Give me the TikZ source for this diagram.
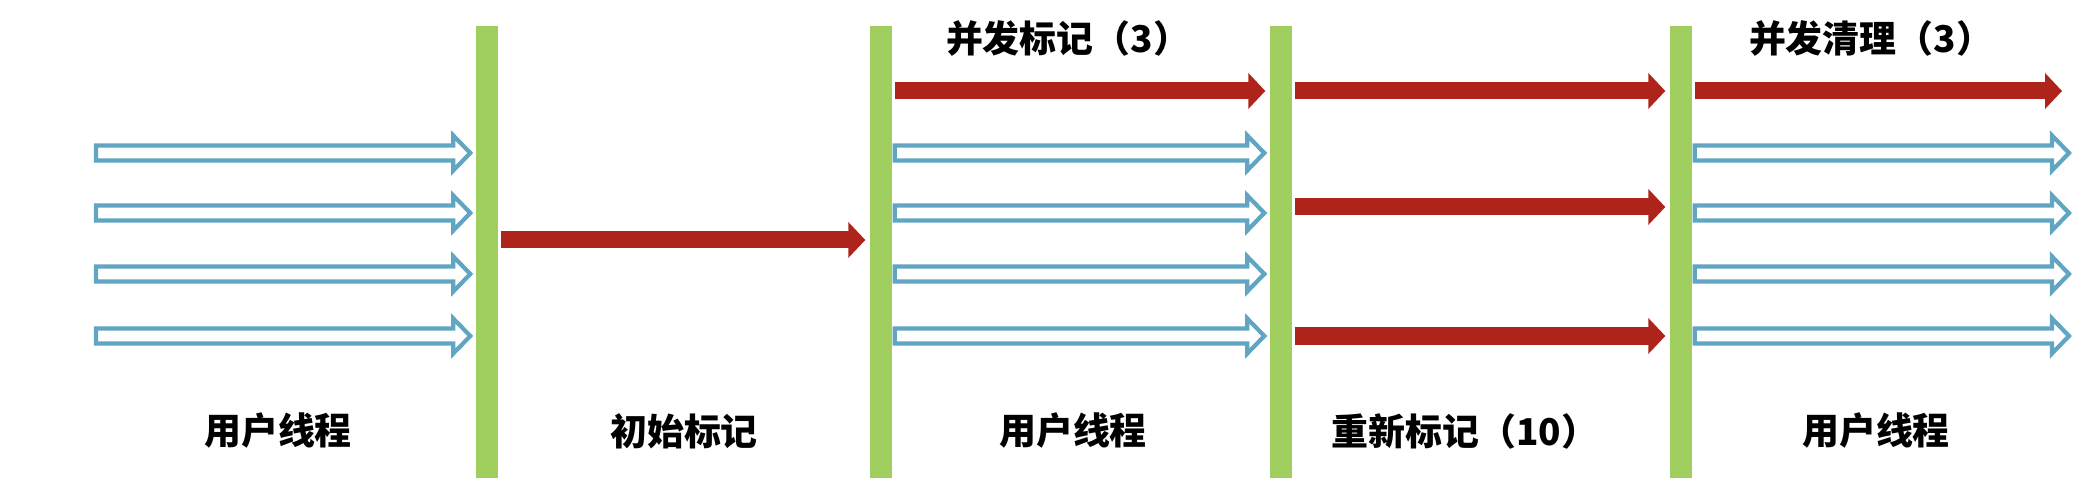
\documentclass[tikz,border=0pt]{standalone}
\usepackage{fontspec}
\newfontfamily\cjk{Noto Sans CJK SC}
\usepackage{tikz}
\usetikzlibrary{arrows.meta,calc,positioning}
\definecolor{barGreen}{RGB}{160,207,96}
\definecolor{markRed}{RGB}{174,35,26}
\definecolor{threadBlue}{RGB}{96,165,194}

\begin{document}
\begin{tikzpicture}[x=0.01cm, y=-0.01cm,
        bar/.style={fill=barGreen, minimum width=0.22cm, minimum height=4.52cm, inner sep=0pt},
        phase/.style={font=\cjk\bfseries\fontsize{10.5pt}{12pt}\selectfont, inner sep=0pt},
        markarrow/.style={draw=markRed, line width=0.17cm, -{Triangle[length=0.17cm,width=0.35cm]}, shorten >=0.04cm, shorten <=0.02cm},
        hollow/.style={draw=threadBlue, line width=0.042cm, fill=white, to path={let \p1=(\tikztostart), \p2=(\tikztotarget) in
            (\x1+0.02cm,\y1+0.075cm) -- (\x2-0.22cm,\y1+0.075cm) -- (\x2-0.22cm,\y1+0.175cm) -- (\x2-0.05cm,\y1)
            -- (\x2-0.22cm,\y1-0.175cm) -- (\x2-0.22cm,\y1-0.075cm) -- (\x1+0.02cm,\y1-0.075cm) -- cycle}}]
    \useasboundingbox (0,0) rectangle (2098,504);

    \node[bar] (b1) at (487,252) {};
    \node[bar] (b2) at (881,252) {};
    \node[bar] (b3) at (1281,252) {};
    \node[bar] (b4) at (1681,252) {};

    \coordinate (start) at (94,0);
    \coordinate (end) at (2074,0);
    \coordinate (stop) at (2066,0);

    \foreach \y in {153,213,274,336} {
        \coordinate (r) at (0,\y);
        \draw[hollow] (start |- r) to (b1.west |- r);
        \draw[hollow] (b2.east |- r) to (b3.west |- r);
        \draw[hollow] (b4.east |- r) to (end |- r);
    }

    \coordinate (init) at (0,240);
    \coordinate (m1) at (0,91);
    \coordinate (m2) at (0,207);
    \coordinate (m3) at (0,336);
    \draw[markarrow] (b1.east |- init) -- (b2.west |- init);
    \draw[markarrow] (b2.east |- m1) -- (b3.west |- m1);
    \foreach \r in {m1,m2,m3}
        \draw[markarrow] (b3.east |- \r) -- (b4.west |- \r);
    \draw[markarrow] (b4.east |- m1) -- (stop |- m1);

    \node[phase] (u1) at (278,431) {用户线程};
    \node[phase] (p1) at (684,431) {初始标记};
    \node[phase] (u2) at (1073,431) {用户线程};
    \node[phase] (p2) at (1465,431) {重新标记（10）};
    \node[phase] (u3) at (1876,431) {用户线程};
    \node[phase] (c1) at (1068,38) {并发标记（3）};
    \node[phase] (c2) at (1871,38) {并发清理（3）};
\end{tikzpicture}
\end{document}
